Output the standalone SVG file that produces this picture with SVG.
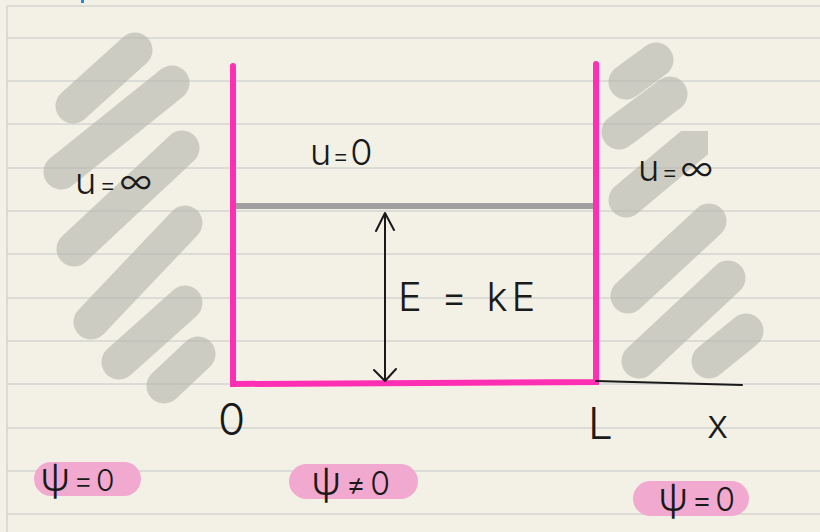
<svg xmlns="http://www.w3.org/2000/svg" width="820" height="532" viewBox="0 0 820 532">
<style>
.rule{stroke:#d5d5d1;stroke-width:1.6;fill:none}
.hatch{stroke:#b9b9b0;stroke-width:35;stroke-linecap:round;fill:none}
.wall{stroke:#ff2fb3;stroke-width:6;stroke-linecap:round;stroke-linejoin:miter;fill:none}
.pill{fill:#f2a9cf}
.ink{font-family:Inter,"DejaVu Sans","Liberation Sans",sans-serif;font-weight:300;fill:#1a1a1a}
.pen{stroke:#1a1a1a;stroke-width:2;fill:none;stroke-linecap:round;stroke-linejoin:round}
</style>
<defs>
<clipPath id="cutR"><rect x="560" y="131" width="148" height="120"/></clipPath>
</defs>
<rect width="820" height="532" fill="#f3f1e6"/>
<g id="paper">
<line class="rule" x1="7" y1="6" x2="820" y2="6"/>
<line class="rule" x1="7" y1="6" x2="7" y2="532"/>
<line class="rule" x1="7" y1="38" x2="820" y2="38"/>
<line class="rule" x1="7" y1="81" x2="820" y2="81"/>
<line class="rule" x1="7" y1="124" x2="820" y2="124"/>
<line class="rule" x1="7" y1="168" x2="820" y2="168"/>
<line class="rule" x1="7" y1="211" x2="820" y2="211"/>
<line class="rule" x1="7" y1="254" x2="820" y2="254"/>
<line class="rule" x1="7" y1="298" x2="820" y2="298"/>
<line class="rule" x1="7" y1="341" x2="820" y2="341"/>
<line class="rule" x1="7" y1="384" x2="820" y2="384"/>
<line class="rule" x1="7" y1="428" x2="820" y2="428"/>
<line class="rule" x1="7" y1="471" x2="820" y2="471"/>
<line class="rule" x1="7" y1="514" x2="820" y2="514"/>
<rect x="81" y="0" width="3" height="3" fill="#1e88e5"/>
</g>
<g id="hatch-left" opacity="0.66">
<line class="hatch" x1="73" y1="106" x2="135" y2="50"/>
<line class="hatch" x1="61" y1="172" x2="172" y2="83"/>
<line class="hatch" x1="74" y1="249" x2="182" y2="148"/>
<line class="hatch" x1="91" y1="322" x2="185" y2="223"/>
<line class="hatch" x1="119" y1="362" x2="185" y2="303"/>
<line class="hatch" x1="164" y1="386" x2="198" y2="354"/>
</g>
<g id="hatch-right" opacity="0.66">
<line class="hatch" x1="626" y1="82" x2="656" y2="60"/>
<line class="hatch" x1="619" y1="132" x2="670" y2="94"/>
<line class="hatch" x1="626" y1="200" x2="700" y2="138" clip-path="url(#cutR)"/>
<line class="hatch" x1="628" y1="296" x2="709" y2="221"/>
<line class="hatch" x1="639" y1="361" x2="728" y2="278"/>
<line class="hatch" x1="709" y1="361" x2="746" y2="331"/>
</g>
<g id="well">
<line x1="236" y1="206" x2="593" y2="206" stroke="#a0a0a0" stroke-width="6"/>
<path class="wall" d="M233 66 L233 384 L596 382 L596 64"/>
</g>
<g id="connectors">
<line class="pen" x1="596" y1="381" x2="742" y2="385"/>
<path class="pen" d="M385 213 L385 381 M376 231 L385 213 L394 230 M374 370 L385 381 L396 369"/>
</g>
<g id="pills">
<rect class="pill" x="34" y="462" width="107" height="34" rx="17"/>
<rect class="pill" x="289" y="464" width="129" height="35" rx="17.5"/>
<rect class="pill" x="633" y="481" width="116" height="35" rx="17.5"/>
</g>
<g id="labels" class="ink">
<text x="75" y="194" font-size="36" letter-spacing="3">u<tspan font-size="26">=</tspan>∞</text>
<text x="310" y="165" font-size="36" letter-spacing="1">u<tspan font-size="26">=</tspan>0</text>
<text x="638" y="181" font-size="36" letter-spacing="2">u<tspan font-size="26">=</tspan>∞</text>
<text x="398" y="311" font-size="40" letter-spacing="4">E = kE</text>
<text x="218" y="435" font-size="44">0</text>
<text x="588" y="439" font-size="44">L</text>
<text x="707" y="438" font-size="40">x</text>
<text x="40" y="491" font-size="40" letter-spacing="3">ψ<tspan font-size="30">=0</tspan></text>
<text x="311" y="495" font-size="40" letter-spacing="4">ψ<tspan font-size="32">≠0</tspan></text>
<text x="658" y="511" font-size="40" letter-spacing="3">ψ<tspan font-size="32">=0</tspan></text>
</g>
</svg>
